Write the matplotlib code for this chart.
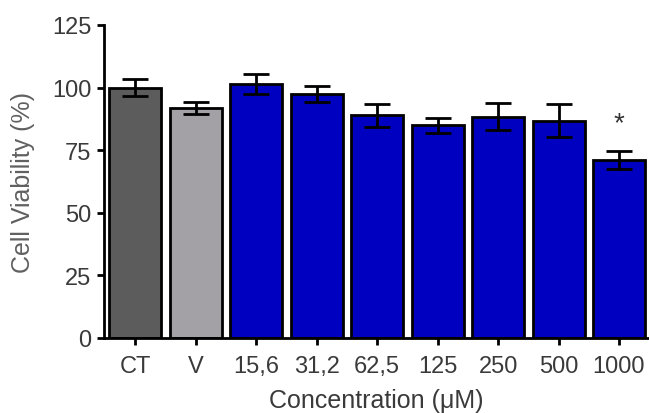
import matplotlib
matplotlib.use("Agg")
import matplotlib.pyplot as plt

categories = ["CT", "V", "15,6", "31,2", "62,5", "125", "250", "500", "1000"]
viability = [100.0, 92.0, 101.3, 97.4, 88.9, 85.0, 88.4, 86.8, 71.0]
sem = [3.3, 2.4, 4.0, 3.2, 4.6, 3.0, 5.5, 6.6, 3.6]
bar_colors = ["#5c5c5c", "#a3a1a6"] + ["#0000c0"] * 7
significance = ["", "", "", "", "", "", "", "", "*"]
yticks = [0, 25, 50, 75, 100, 125]

plt.rcParams['font.family'] = ['Liberation Sans', 'DejaVu Sans']

fig = plt.figure(figsize=(6.49, 4.14), dpi=100)
ax = fig.add_axes([104/649, 1 - 339/414, (648 - 104)/649, (339 - 26)/414])

x = list(range(len(categories)))
ax.bar(x, viability, width=0.86, color=bar_colors, edgecolor="black", linewidth=2, zorder=2)
ax.errorbar(x, viability, yerr=sem, fmt="none", ecolor="black", elinewidth=2,
            capsize=9.5, capthick=2, zorder=3)

for xi, v, e, s in zip(x, viability, sem, significance):
    if s:
        ax.text(xi, v + e + 11, s, ha="center", va="center", fontsize=20, color="#333333")

ax.set_xlim(-0.52, 8.48)
ax.set_ylim(0, 125)
ax.set_yticks(yticks)
ax.set_xticks(x)
ax.set_xticklabels(categories)

for side in ["top", "right"]:
    ax.spines[side].set_visible(False)
for side in ["left", "bottom"]:
    ax.spines[side].set_linewidth(2)
ax.tick_params(axis="both", width=2, length=5, labelsize=17, colors="black",
               labelcolor="#3a3a3a")
ax.tick_params(axis="x", pad=7)
ax.tick_params(axis="y", pad=4)

ax.set_xlabel("Concentration (\u03bcM)", fontsize=18, color="#3a3a3a", labelpad=8)
ax.set_ylabel("Cell Viability (%)", fontsize=18, color="#606060", labelpad=12)

fig.savefig("out.png", dpi=100)
